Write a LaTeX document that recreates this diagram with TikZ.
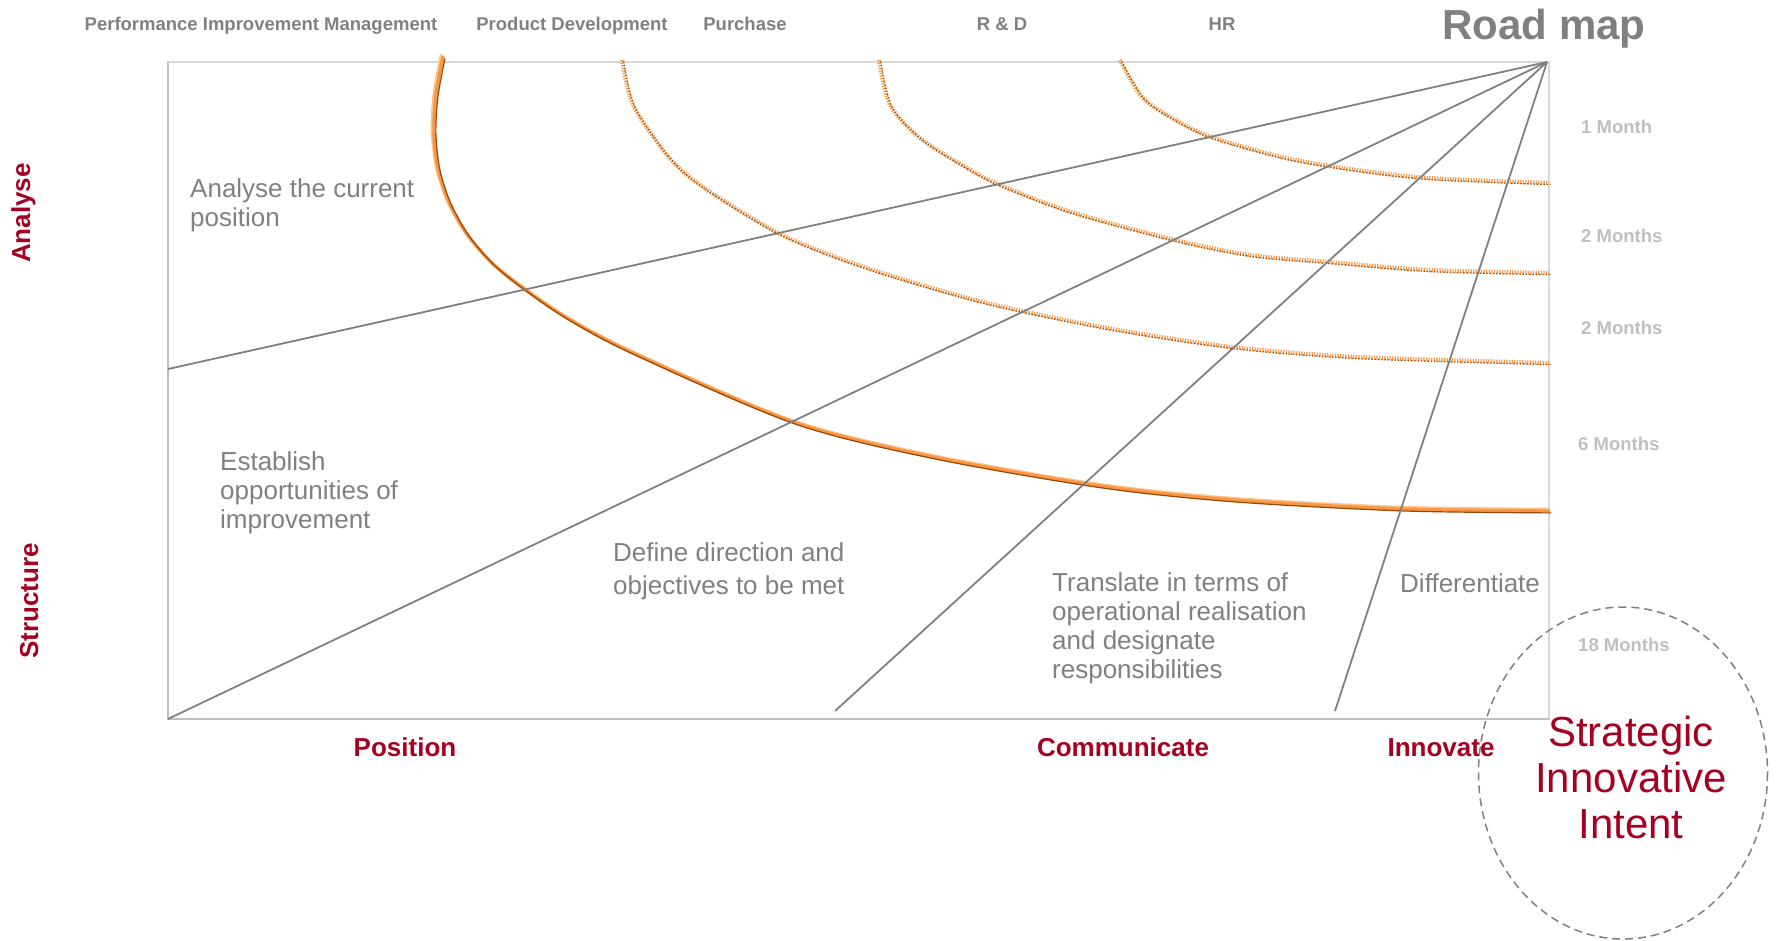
\documentclass[tikz,border=0pt]{standalone}
\usepackage{fontspec}
\setmainfont{Liberation Sans}
\definecolor{mapred}{HTML}{A50021}
\definecolor{mapgray}{HTML}{808080}
\definecolor{framegray}{HTML}{D9D9D9}
\definecolor{edgegray}{HTML}{C0C0C0}
\definecolor{monthgray}{HTML}{BFBFBF}
\definecolor{arcorange}{HTML}{F79646}
\definecolor{arclight}{HTML}{FFC285}
\definecolor{arcbrown}{HTML}{984807}
\begin{document}
\begin{tikzpicture}[x=1pt,y=-1pt,
    dept/.style={anchor=base, inner sep=0, text=mapgray, font=\bfseries\fontsize{18.5}{20}\selectfont},
    month/.style={anchor=base west, inner sep=0, text=monthgray, font=\bfseries\fontsize{18.5}{20}\selectfont},
    phase/.style={anchor=base, inner sep=0, text=mapred, font=\bfseries\fontsize{26}{29}\selectfont},
    task/.style={anchor=base west, align=left, inner sep=0, text=mapgray, font=\fontsize{26}{29}\selectfont},
    ray/.style={draw=mapgray, line width=1.8},
    dotband/.style={arcorange!85!arclight, line width=4.2, dash pattern=on 1.3pt off 1.3pt},
    dotedge/.style={arcbrown, line width=1.3, dash pattern=on 1.3pt off 2pt}]
    \useasboundingbox (0,0) rectangle (1777,941);

    % frame of the road map
    \draw[framegray, line width=2] (168,62) rectangle (1549,719);
    \draw[edgegray, line width=2] (168,62) -- (168,719) -- (1549,719);

    % department names and title
    \node[dept] (pim) at (261,31) {Performance Improvement Management};
    \node[dept] (pd) at (572,31) {Product Development};
    \node[dept] (purchase) at (745,31) {Purchase};
    \node[dept] (rd) at (1002,31) {R \& D};
    \node[dept] (hr) at (1222,31) {HR};
    \node[anchor=base, inner sep=0, text=mapgray, font=\bfseries\fontsize{42}{46}\selectfont] (title) at (1544,40) {Road map};

    % time scale
    \node[month] (m1) at (1581,134) {1 Month};
    \node[month] (m2) at (1581,243) {2 Months};
    \node[month] (m3) at (1581,334) {2 Months};
    \node[month] (m6) at (1578,450) {6 Months};
    \node[month] (m18) at (1578,651) {18 Months};

    % dotted arcs
    \foreach \dx/\sty in {0/dotband, 1.6/dotedge}
        \draw[\sty, shift={(\dx,\dx)}] plot[smooth] coordinates {(622,60) (633,105) (667,155) (700,185) (780,234) (867,268) (983,302) (1107,328) (1232,347) (1357,357) (1549,363)};
    \foreach \dx/\sty in {0/dotband, 1.6/dotedge}
        \draw[\sty, shift={(\dx,\dx)}] plot[smooth] coordinates {(879,60) (890,105) (920,138) (967,168) (1000,185) (1071,212) (1175,240) (1250,255) (1329,262) (1429,270) (1549,273)};
    \foreach \dx/\sty in {0/dotband, 1.6/dotedge}
        \draw[\sty, shift={(\dx,\dx)}] plot[smooth] coordinates {(1120,60) (1143,98) (1179,122) (1214,138) (1286,158) (1357,170) (1429,178) (1549,183)};

    % main arc
    \foreach \dx/\col/\w in {-1.8/arclight/3, 0/arcorange/3.4, 1.9/arcbrown/1.2}
        \draw[\col, line width=\w, line cap=round, shift={(\dx,\dx)}] plot[smooth] coordinates {(443,57) (436,95) (434,132) (438,168) (449,202) (467,234) (492,263) (523,288) (567,318) (633,353) (793,422) (933,457) (1100,486) (1233,500) (1400,509) (1549,511)};

    % rays from the top corner
    \coordinate (apex) at (1547,62);
    \coordinate (r1) at (168,369);
    \coordinate (r2) at (168,719);
    \coordinate (r3) at (835,711);
    \coordinate (r4) at (1335,711);
    \draw[ray] (apex) -- (r1);
    \draw[ray] (apex) -- (r2);
    \draw[ray] (apex) -- (r3);
    \draw[ray] (apex) -- (r4);

    % steps (base = last line)
    \node[task] (current) at (190,227) {Analyse the current\\position};
    \node[task] (opport) at (220,528) {Establish\\opportunities of\\improvement};
    \node[task] (direction) at (613,594) {Define direction and\\[4pt]objectives to be met};
    \node[task] (translate) at (1052,678) {Translate in terms of\\operational realisation\\and designate\\responsibilities};
    \node[task] (diff) at (1400,592) {Differentiate};

    % axes
    \node[phase, rotate=90] (analyse) at (30,213) {Analyse};
    \node[phase, rotate=90] (structure) at (38,601) {Structure};
    \node[phase] (position) at (405,756) {Position};
    \node[phase] (communicate) at (1123,756) {Communicate};
    \node[phase] (innovate) at (1441,756) {Innovate};

    % intent
    \draw[mapgray, line width=1.5, dash pattern=on 8pt off 5pt] (1623,773) ellipse (144.5 and 166);
    \node[anchor=base, align=center, inner sep=0, text=mapred, font=\fontsize{42}{46}\selectfont] (intent) at (1631,838) {Strategic\\Innovative\\Intent};
\end{tikzpicture}
\end{document}
